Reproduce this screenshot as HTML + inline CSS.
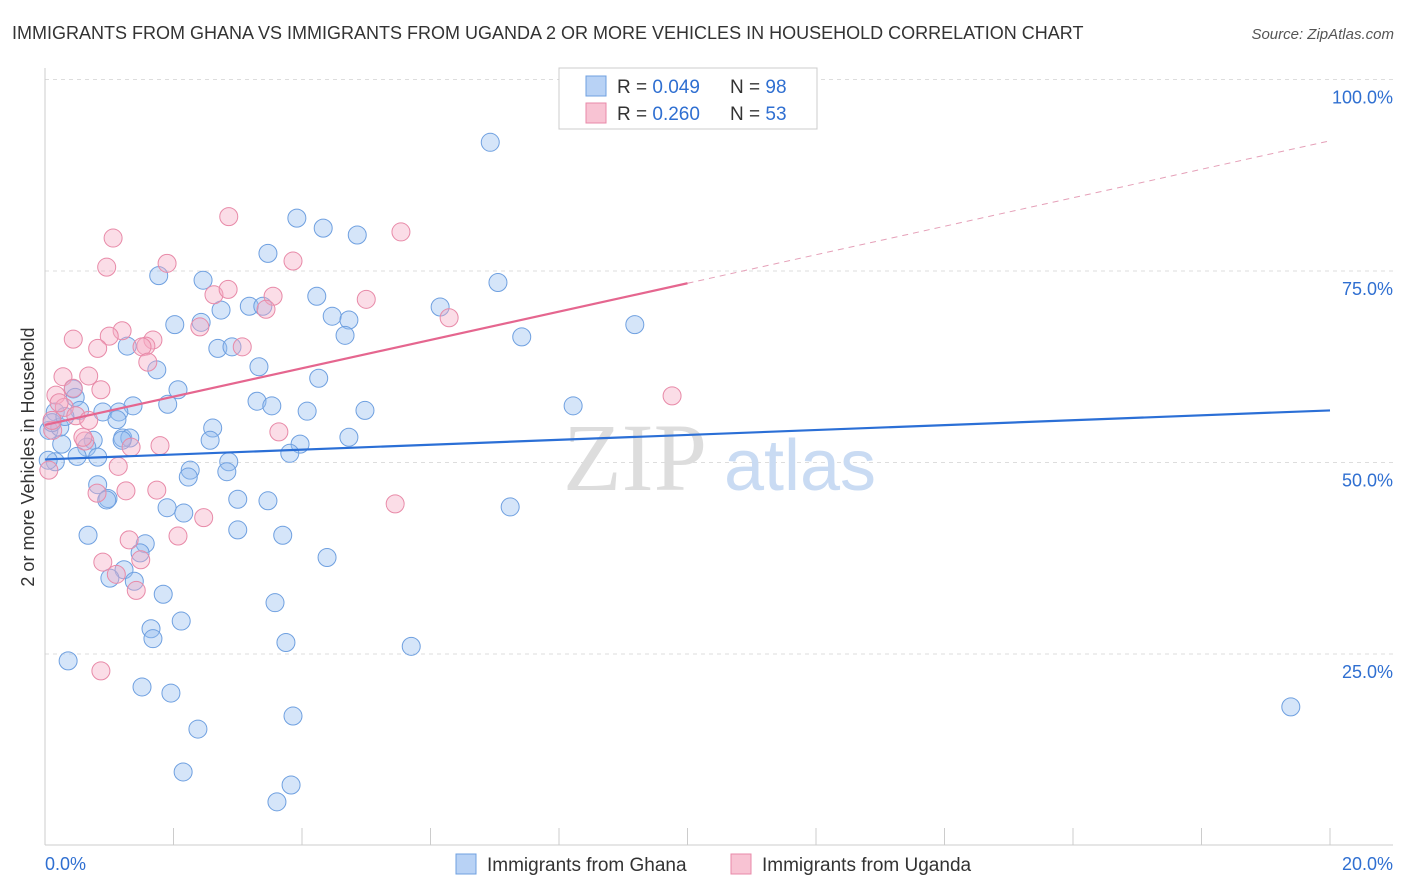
<!DOCTYPE html>
<html><head><meta charset="utf-8"><style>
body{margin:0;background:#fff;font-family:"Liberation Sans",sans-serif;}
svg{display:block}
</style></head><body>
<svg id="chart" width="1406" height="892" xmlns="http://www.w3.org/2000/svg">
<text x="12" y="39" font-size="18" fill="#333">IMMIGRANTS FROM GHANA VS IMMIGRANTS FROM UGANDA 2 OR MORE VEHICLES IN HOUSEHOLD CORRELATION CHART</text>
<text x="1394" y="39" font-size="15" fill="#555" font-style="italic" text-anchor="end">Source: ZipAtlas.com</text>
<text x="34" y="457" font-size="18" fill="#333" text-anchor="middle" transform="rotate(-90 34 457)">2 or more Vehicles in Household</text>
<g id="grid"></g>
<g><text x="635" y="490" font-size="96" fill="#ddd" font-family="Liberation Serif,serif" text-anchor="middle">ZIP</text><text x="800" y="490" font-size="72" fill="#c9dbf3" text-anchor="middle">atlas</text></g>
<g id="pts"></g>
<g id="trends"></g>
<g>
<rect x="559" y="68" width="258" height="61" fill="#fff" stroke="#ccc"/>
<rect x="586" y="76" width="20" height="20" fill="#b8d2f5" stroke="#6fa0e0"/>
<rect x="586" y="103" width="20" height="20" fill="#f8c3d3" stroke="#e88aa8"/>
<text x="617" y="93" font-size="19" fill="#333">R = <tspan fill="#2f6fd1">0.049</tspan><tspan x="730">N = </tspan><tspan fill="#2f6fd1">98</tspan></text>
<text x="617" y="120" font-size="19" fill="#333">R = <tspan fill="#2f6fd1">0.260</tspan><tspan x="730">N = </tspan><tspan fill="#2f6fd1">53</tspan></text>
</g>
<g>
<rect x="456" y="854" width="20" height="20" fill="#b8d2f5" stroke="#6fa0e0"/>
<text x="487" y="871" font-size="19" fill="#333">Immigrants from Ghana</text>
<rect x="731" y="854" width="20" height="20" fill="#f8c3d3" stroke="#e88aa8"/>
<text x="762" y="871" font-size="19" fill="#333">Immigrants from Uganda</text>
</g>
</svg>
<script>
const xTickLabels=["0.0%","20.0%"];
const yTicks=[25,50,75,100];
const yTickLabels=["25.0%","50.0%","75.0%","100.0%"];
const ghanaX=[6.93,3.92,4.33,4.86,3.47,7.05,1.77,2.46,4.23,3.18,2.74,3.39,6.15,4.47,4.73,2.02,2.43,9.18,4.67,7.42,1.28,2.69,2.91,3.33,1.74,4.26,0.44,2.07,0.47,3.30,1.91,1.37,3.53,4.08,4.98,8.22,0.90,1.15,0.16,0.54,1.12,2.61,0.06,0.23,1.21,0.75,1.32,2.57,4.73,3.97,0.26,0.65,3.81,0.50,0.82,0.16,2.86,2.26,2.23,2.83,0.82,0.98,3.00,3.47,1.90,2.16,7.24,3.00,0.67,3.70,1.56,1.48,4.39,1.23,1.01,1.39,1.84,3.58,1.65,2.12,1.68,3.75,5.70,0.36,1.51,1.96,2.38,3.86,2.15,3.83,3.61,19.39,0.11,0.31,0.96,1.20,0.05];
const ghanaY=[91.8,81.9,80.6,79.7,77.3,73.5,74.4,73.8,71.7,70.4,69.9,70.4,70.3,69.1,68.6,68.0,68.3,68.0,66.6,66.4,65.2,64.9,65.1,62.5,62.1,61.0,59.6,59.5,58.5,58.0,57.6,57.4,57.4,56.7,56.8,57.4,56.6,56.6,56.6,56.8,55.6,54.5,54.2,54.6,53.2,52.9,53.2,52.9,53.3,52.4,52.4,52.0,51.2,50.8,50.7,50.1,50.1,49.0,48.1,48.8,47.1,45.3,45.2,45.0,44.1,43.4,44.2,41.2,40.5,40.5,39.4,38.2,37.6,36.0,34.9,34.5,32.8,31.7,28.3,29.3,27.0,26.5,26.0,24.1,20.7,19.9,15.2,16.9,9.6,7.9,5.7,18.1,55.2,56.0,45.1,52.9,50.3];
const ugandaX=[2.86,5.54,1.06,1.90,3.86,0.96,2.63,2.85,3.55,5.00,3.44,6.29,2.41,0.44,1.20,1.00,1.68,1.57,0.82,1.51,3.07,1.60,0.68,0.28,0.44,0.87,0.17,0.30,0.48,0.68,0.12,0.62,1.34,1.79,3.64,1.14,0.06,0.81,1.74,1.26,5.45,2.47,2.07,1.31,0.90,1.49,1.11,1.42,0.87,9.76,0.11,0.59,0.22];
const ugandaY=[82.1,80.1,79.3,76.0,76.3,75.5,71.9,72.6,71.7,71.3,70.0,68.9,67.7,66.1,67.2,66.5,66.0,65.2,64.9,65.1,65.1,63.1,61.3,61.2,59.7,59.5,58.8,57.2,56.1,55.5,54.2,52.8,52.0,52.2,54.0,49.5,49.0,46.0,46.4,46.3,44.6,42.8,40.4,39.9,37.0,37.3,35.4,33.3,22.8,58.7,55.5,53.3,57.8];
const ghanaTrend=[50.4,56.8];      // y at x=0, x=20
const ugandaTrend=[54.9,73.4,92.0]; // y at x=0,10,20
const NS="http://www.w3.org/2000/svg";
const X=v=>45+v/20*1285, Y=v=>845.5-v*7.66;
function mk(tag,attrs,parent){const e=document.createElementNS(NS,tag);for(const k in attrs)e.setAttribute(k,attrs[k]);parent.appendChild(e);return e;}
const grid=document.getElementById('grid');
yTicks.forEach((t,i)=>{
 const l=mk('line',{x1:45,x2:1393,y1:Y(t),y2:Y(t),stroke:'#ddd','stroke-dasharray':'4,4'},grid);
 
 
 const tx=mk('text',{x:1393,y:Y(t)+24,'font-size':18,fill:'#2f6fd1','text-anchor':'end'},grid);
 tx.textContent=yTickLabels[i];
 
 
});
const ax=mk('line',{x1:45,x2:45,y1:68,y2:845,stroke:'#ccc'},grid);


const bx=mk('line',{x1:45,x2:1393,y1:845,y2:845,stroke:'#ccc'},grid);


for(let i=0;i<=10;i++){
 const t=mk('line',{x1:X(i*2),x2:X(i*2),y1:828,y2:845,stroke:'#ccc'},grid);
 
 
}
[[0,'start',45],[20,'end',1393]].forEach((d,i)=>{
 const t=mk('text',{x:d[2],y:870,'font-size':18,fill:'#2f6fd1','text-anchor':d[1]},grid);
 t.textContent=xTickLabels[i];
 
 
});
const pts=document.getElementById('pts');
ghanaX.forEach((x,i)=>{
 const c=mk('circle',{cx:X(x),cy:Y(ghanaY[i]),r:9,fill:'rgba(150,190,240,0.4)',stroke:'#6fa0e0','stroke-width':1},pts);
 
 
});
ugandaX.forEach((x,i)=>{
 const c=mk('circle',{cx:X(x),cy:Y(ugandaY[i]),r:9,fill:'rgba(245,170,195,0.4)',stroke:'#e88aa8','stroke-width':1},pts);
 
 
});
const tr=document.getElementById('trends');
const g1=mk('line',{x1:X(0),y1:Y(ghanaTrend[0]),x2:X(20),y2:Y(ghanaTrend[1]),stroke:'#2b6fd6','stroke-width':2.2},tr);


const u1=mk('line',{x1:X(0),y1:Y(ugandaTrend[0]),x2:X(10),y2:Y(ugandaTrend[1]),stroke:'#e5668f','stroke-width':2.2},tr);


const u2=mk('line',{x1:X(10),y1:Y(ugandaTrend[1]),x2:X(20),y2:Y(ugandaTrend[2]),stroke:'#e5a0b8','stroke-width':1,'stroke-dasharray':'6,5'},tr);


</script>
</body></html>
